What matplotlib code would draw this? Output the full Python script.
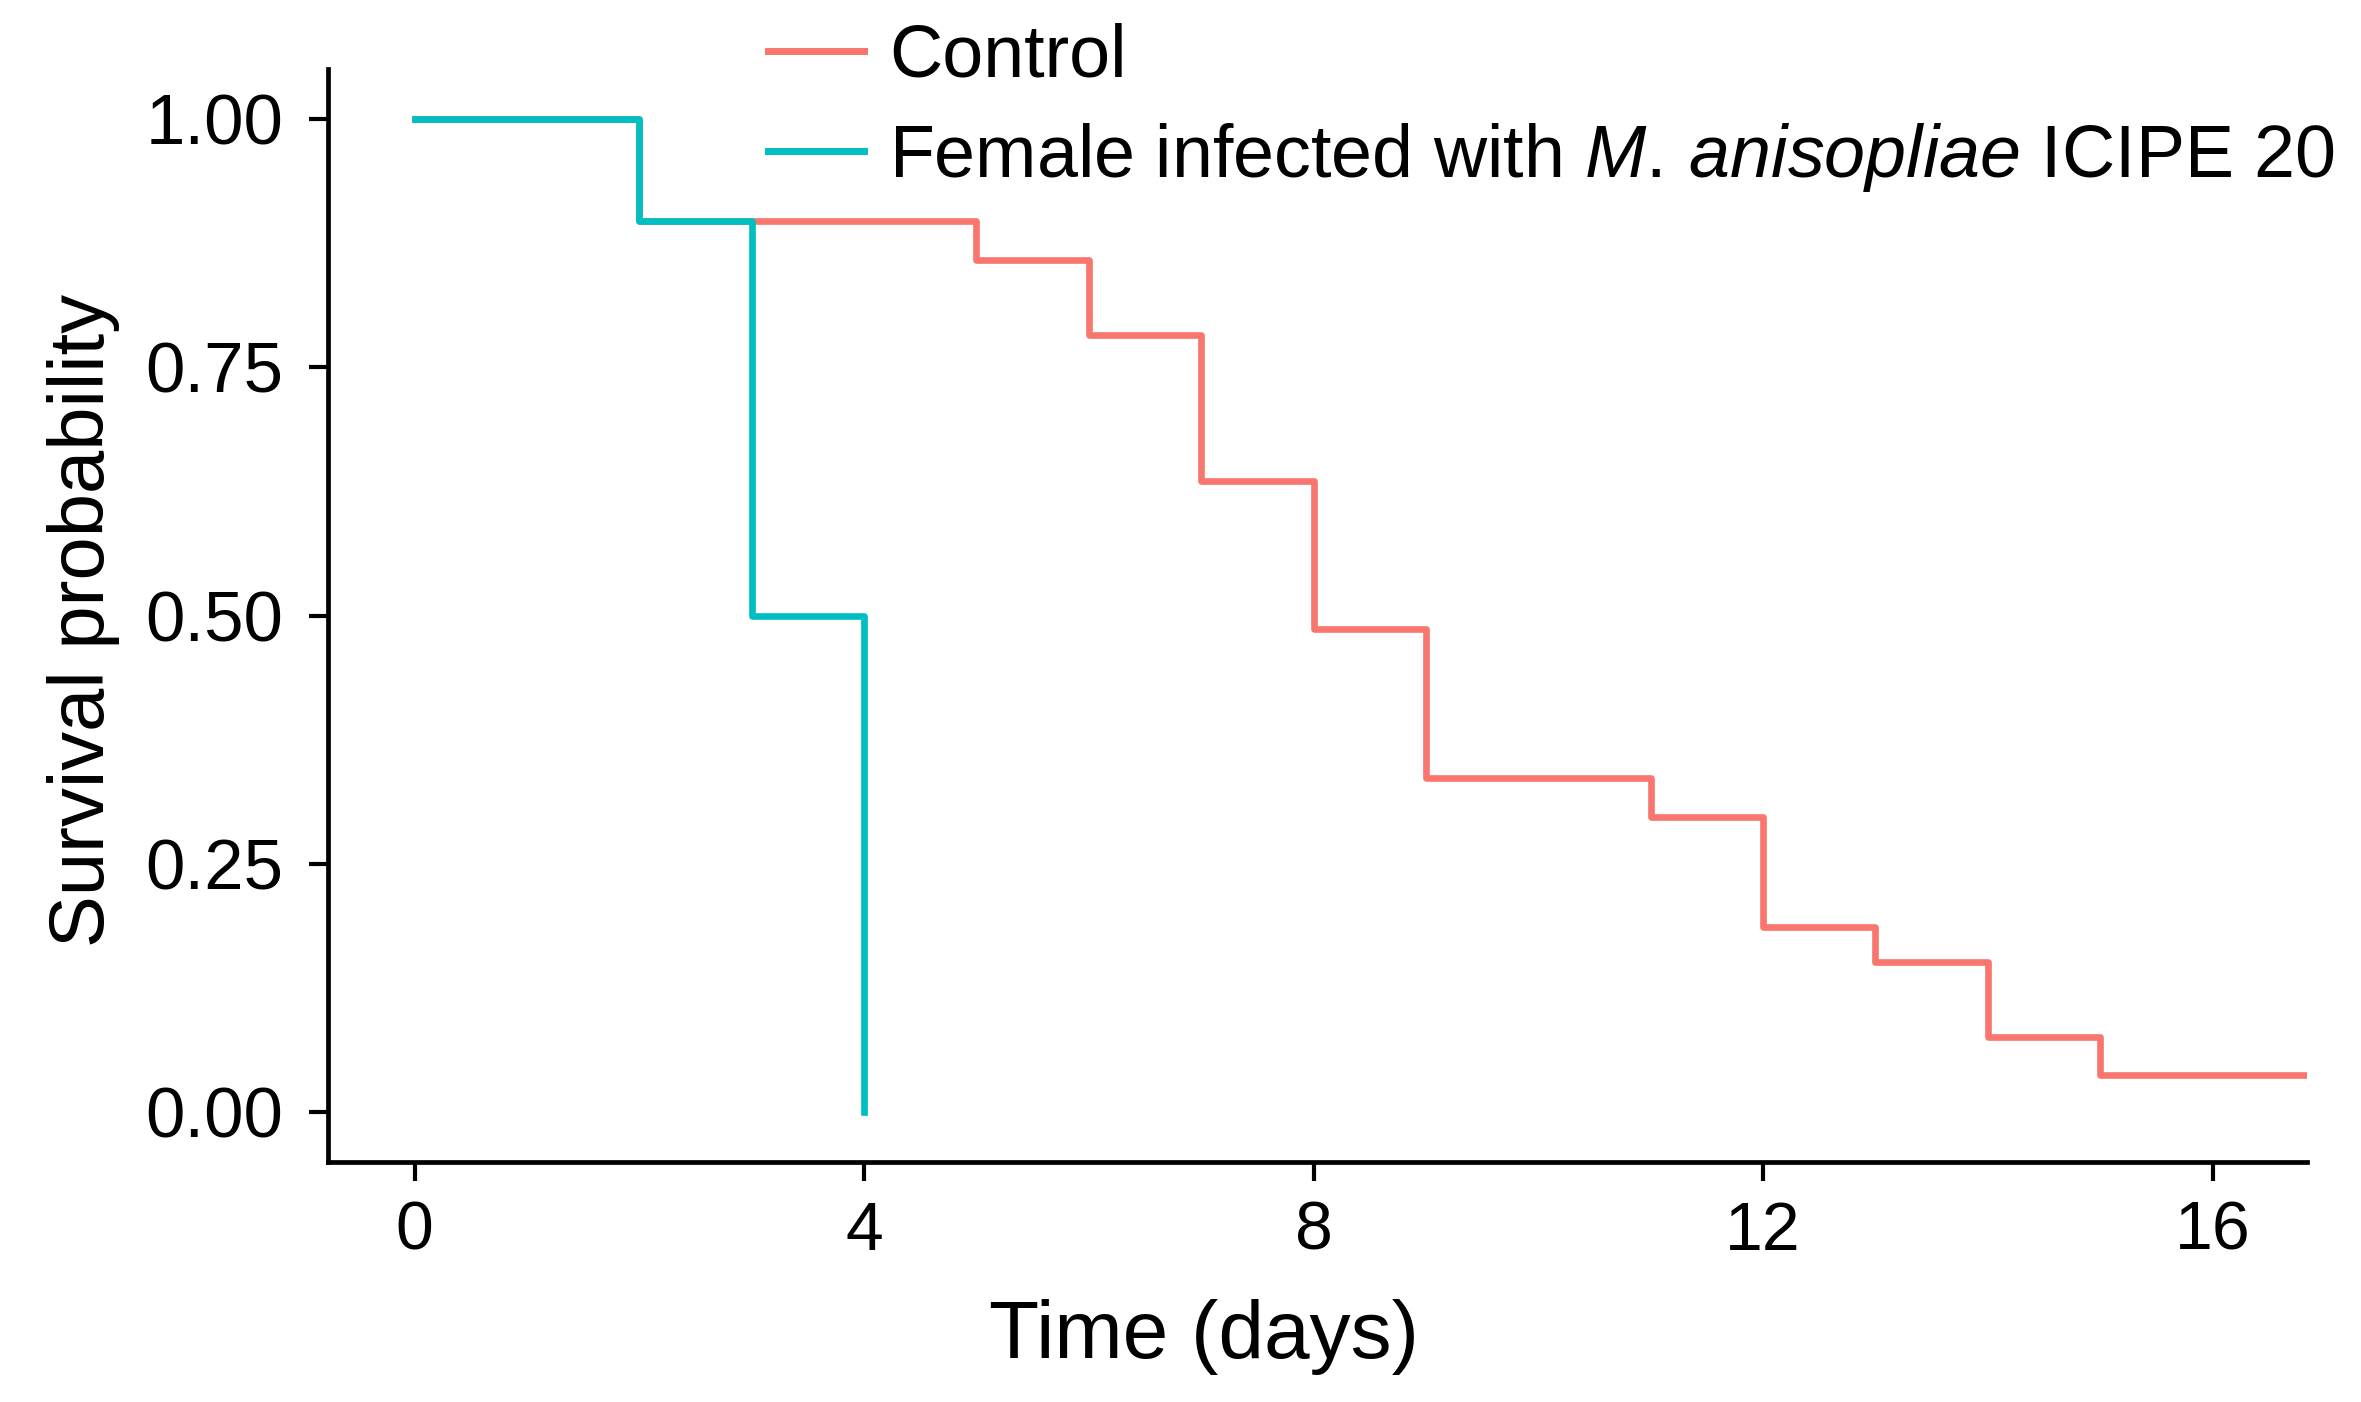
import matplotlib
matplotlib.use("Agg")
import matplotlib.pyplot as plt
from matplotlib.lines import Line2D

plt.rcParams['font.family'] = ['Liberation Sans', 'DejaVu Sans']
plt.rcParams['mathtext.fontset'] = 'custom'
plt.rcParams['mathtext.rm'] = 'Liberation Sans'
plt.rcParams['mathtext.it'] = 'Liberation Sans:italic'

# Data (Kaplan-Meier step curves)
control_time = [0, 2, 5, 6, 7, 8, 9, 11, 12, 13, 14, 15, 17]
control_surv = [1.0, 0.897, 0.858, 0.782, 0.635, 0.486, 0.336, 0.297, 0.187, 0.151, 0.076, 0.038, 0.038]
infected_time = [0, 2, 3, 4]
infected_surv = [1.0, 0.897, 0.5, 0.0]
group_labels = ["Control", r"Female infected with $\it{M.\,anisopliae}$ ICIPE 20"]
x_ticks = [0, 4, 8, 12, 16]
y_ticks = [0.00, 0.25, 0.50, 0.75, 1.00]
y_tick_labels = ["0.00", "0.25", "0.50", "0.75", "1.00"]

red = "#F8766D"
cyan = "#00BFC4"

fig = plt.figure(figsize=(23.61, 14.02), dpi=100)
ax = fig.add_axes([328/2361, 1 - 1162/1402, (2307-328)/2361, (1162-69)/1402])

ax.step(control_time, control_surv, where='post', color=red, lw=4.8)
ax.step(infected_time, infected_surv, where='post', color=cyan, lw=4.8)

ax.set_xlim(-0.77, 16.84)
ax.set_ylim(-0.05, 1.05)
ax.set_xticks(x_ticks)
ax.set_xticklabels([str(t) for t in x_ticks])
ax.set_yticks(y_ticks)
ax.set_yticklabels(y_tick_labels)

for s in ['top', 'right']:
    ax.spines[s].set_visible(False)
for s in ['left', 'bottom']:
    ax.spines[s].set_linewidth(3.4)
    ax.spines[s].set_color('black')

ax.tick_params(axis='both', length=14, width=3.0, color='black')
ax.tick_params(axis='x', labelsize=49, pad=13)
ax.tick_params(axis='y', labelsize=51, pad=18)

ax.set_xlabel("Time (days)", fontsize=59)
ax.xaxis.set_label_coords((1204-328)/(2307-328), -0.125)
ax.set_ylabel("Survival probability", fontsize=56)
ax.yaxis.set_label_coords(-0.105, (1162-620)/(1162-69))

handles = [Line2D([], [], color=red, lw=5), Line2D([], [], color=cyan, lw=5)]
fig.legend(handles, group_labels, loc='upper left', bbox_to_anchor=(768/2361, 0.984),
           frameon=False, fontsize=53, handlelength=1.3, handletextpad=0.35,
           labelspacing=0.4, borderpad=0, borderaxespad=0)

fig.savefig("out.png", dpi=100)
